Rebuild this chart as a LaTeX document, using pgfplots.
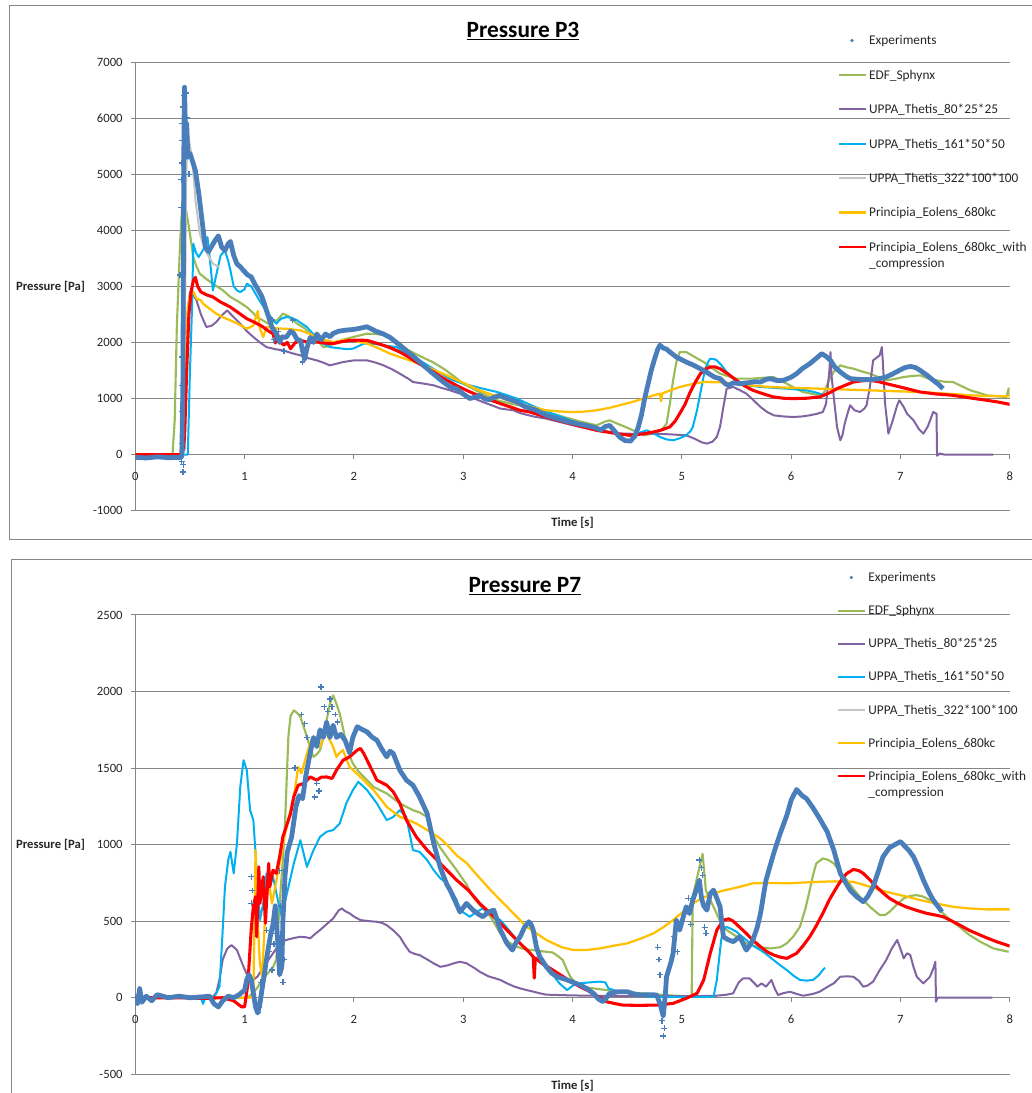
\documentclass[border=0pt]{standalone}
\usepackage{pgfplots}
\pgfplotsset{compat=1.18}
\usepackage{fontspec}
\setmainfont{Carlito}

\definecolor{expblue}{HTML}{4A7EBB}
\definecolor{edfgreen}{HTML}{9BBB59}
\definecolor{uppapurple}{HTML}{8064A2}
\definecolor{uppacyan}{HTML}{00B0F0}
\definecolor{uppagray}{HTML}{C4C4C4}
\definecolor{princorange}{HTML}{FFC000}
\definecolor{princred}{HTML}{FF0000}
\definecolor{axisgray}{HTML}{868686}

\pgfplotsset{
  legend image code/.code={\draw[#1,line width=1.6pt] (0pt,3.2pt) -- (20.25pt,3.2pt);},
  panel/.style={
    scale only axis, width=655.8pt,
    xmin=0, xmax=8, xtick={0,1,...,8},
    axis x line*=middle, axis y line*=left,
    hide obscured x ticks=false, hide obscured y ticks=false,
    axis line style={draw=axisgray, line width=0.75pt},
    ymajorgrids, grid style={draw=axisgray, line width=0.75pt},
    tick style={draw=axisgray, line width=0.75pt},
    major tick length=3.5pt, tick align=outside,
    tick label style={font=\fontsize{9.5}{11}\selectfont, text=black!85},
    /pgf/number format/assume math mode=true,
    /pgf/number format/1000 sep={},
    xticklabel style={yshift=-6pt},
    yticklabel style={xshift=-2.5pt},
    xlabel={Time [s]}, ylabel={Pressure [Pa]},
    every axis x label/.style={at={(rel axis cs:0.5,0)}, anchor=north, yshift=-4.5pt, inner sep=0pt,
      font=\bfseries\fontsize{9.5}{11}\selectfont, text=black!85},
    every axis y label/.style={at={(rel axis cs:0,0.5)}, anchor=east, xshift=-37.5pt, inner sep=0pt,
      font=\bfseries\fontsize{9.5}{11}\selectfont, text=black!85},
    title style={anchor=base, font=\bfseries\fontsize{17.5}{20}\selectfont},
    legend style={draw=none, fill=none, anchor=north west, inner sep=0pt, outer sep=0pt,
      column sep=1.5pt, font=\fontsize{10}{12}\selectfont, text=black!85,
      nodes={inner sep=0pt, text height=7pt, text depth=2.5pt},
      cells={anchor=base west}},
    every axis plot/.append style={line join=round},
  },
}

\begin{document}
\begin{tikzpicture}
\useasboundingbox (0pt,0pt) rectangle (774pt,-819.75pt);
\draw[axisgray, line width=0.75pt] (774pt,-3.75pt) -- (6.75pt,-3.75pt) -- (6.75pt,-404.25pt) -- (774pt,-404.25pt);
\draw[axisgray, line width=0.75pt] (8.25pt,-819.75pt) -- (8.25pt,-419.25pt) -- (774pt,-419.25pt);

% ---------------- Pressure P3 ----------------
\begin{axis}[panel, at={(101.5pt,-383pt)}, anchor=south west, height=336.5pt,
  ymin=-1000, ymax=7000, ytick={-1000,0,...,7000},
  title={\underline{Pressure P3}}, title style={at={(rel axis cs:0.4434,1.0373)}},
  legend style={at={(rel axis cs:0.8036,1.0591)}, row sep=16.3pt}]
\addlegendimage{legend image code/.code={\fill[expblue] (9.75pt,3.2pt) circle (1.1pt);}}
\addlegendentry{Experiments}
\addlegendimage{edfgreen}\addlegendentry{EDF\_Sphynx}
\addlegendimage{uppapurple}\addlegendentry{UPPA\_Thetis\_80*25*25}
\addlegendimage{uppacyan}\addlegendentry{UPPA\_Thetis\_161*50*50}
\addlegendimage{uppagray}\addlegendentry{UPPA\_Thetis\_322*100*100}
\addlegendimage{princorange}\addlegendentry{Principia\_Eolens\_680kc}
\addlegendimage{princred}\addlegendentry{\begin{tabular}[t]{@{}l@{}}Principia\_Eolens\_680kc\_with\\\_compression\end{tabular}}

% EDF_Sphynx
\addplot[forget plot, edfgreen, line width=1.6pt] coordinates {
(0,0) (0.34,0) (0.36,600) (0.38,2300) (0.41,3800) (0.43,4500) (0.44,4620) (0.46,4400) (0.485,4120)
(0.51,3800) (0.53,3520) (0.56,3350) (0.59,3225) (0.65,3130) (0.71,3047) (0.8,2930) (0.87,2810)
(0.95,2720) (1.02,2630) (1.08,2520) (1.11,2452) (1.16,2400) (1.22,2330) (1.3,2400) (1.35,2513)
(1.4,2470) (1.48,2334) (1.55,2250) (1.6,2156) (1.66,2050) (1.72,1917) (1.76,1930) (1.81,1978)
(1.9,2050) (2.0,2100) (2.12,2156) (2.2,2150) (2.3,2126) (2.42,1978) (2.5,1860) (2.6,1760)
(2.72,1650) (2.82,1532) (2.92,1390) (3.0,1265) (3.15,1110) (3.31,968) (3.45,900) (3.61,848)
(3.76,760) (3.92,670) (4.07,590) (4.22,522) (4.3,590) (4.34,611) (4.4,560) (4.52,463) (4.65,344)
(4.74,374) (4.82,450) (4.86,552) (4.89,900) (4.92,1324) (4.95,1650) (4.98,1828) (5.04,1828)
(5.1,1760) (5.2,1650) (5.28,1540) (5.35,1443) (5.42,1400) (5.5,1354) (5.65,1354) (5.75,1370)
(5.84,1383) (5.9,1320) (5.96,1265) (6.04,1180) (6.11,1116) (6.2,1080) (6.26,1057) (6.3,1100)
(6.33,1250) (6.36,1383) (6.4,1500) (6.45,1591) (6.5,1560) (6.57,1532) (6.65,1480) (6.72,1443)
(6.8,1380) (6.87,1324) (6.95,1350) (7.03,1383) (7.1,1400) (7.18,1413) (7.25,1360) (7.33,1324)
(7.4,1300) (7.48,1294) (7.56,1220) (7.64,1146) (7.72,1100) (7.79,1057) (7.88,1040) (7.97,1027)
(7.99,1180) (8.0,1050)
};
% UPPA_Thetis_80*25*25
\addplot[forget plot, uppapurple, line width=1.5pt] coordinates {
(0,0) (0.42,0) (0.45,100) (0.48,2600) (0.5,2900) (0.53,2850) (0.56,2750) (0.6,2500) (0.65,2274)
(0.7,2300) (0.74,2363) (0.79,2480) (0.84,2571) (0.9,2450) (0.96,2334) (1.02,2200) (1.08,2096)
(1.14,2000) (1.2,1917) (1.28,1880) (1.35,1858) (1.43,1810) (1.51,1769) (1.58,1720) (1.66,1680)
(1.72,1640) (1.78,1591) (1.84,1620) (1.9,1650) (2.0,1680) (2.12,1680) (2.2,1640) (2.27,1591)
(2.35,1520) (2.42,1443) (2.5,1350) (2.54,1294) (2.64,1265) (2.73,1235) (2.8,1190) (2.88,1146)
(2.95,1100) (3.03,1057) (3.1,1000) (3.18,937) (3.26,880) (3.34,820) (3.46,790) (3.52,740)
(3.64,680) (3.76,641) (3.82,611) (3.95,550) (4.07,492) (4.13,480) (4.25,420) (4.43,374) (4.6,370)
(4.74,374) (4.9,360) (5.04,344) (5.12,280) (5.18,220) (5.23,196) (5.28,230) (5.32,314) (5.35,500)
(5.38,848) (5.41,1176) (5.47,1205) (5.53,1150) (5.59,1087) (5.65,980) (5.72,848) (5.78,760)
(5.84,700) (5.93,680) (6.02,670) (6.1,680) (6.17,700) (6.24,730) (6.29,759) (6.32,909) (6.35,1500)
(6.36,1828) (6.37,1400) (6.39,1027) (6.42,492) (6.45,255) (6.47,350) (6.49,552) (6.52,760)
(6.54,879) (6.58,790) (6.63,759) (6.67,820) (6.69,879) (6.72,1200) (6.75,1680) (6.79,1740)
(6.81,1769) (6.83,1917) (6.84,1621) (6.86,900) (6.89,374) (6.93,611) (6.97,880) (6.99,968)
(7.03,850) (7.06,730) (7.12,611) (7.17,450) (7.21,374) (7.25,500) (7.3,759) (7.33,730)
(7.335,-20) (7.36,18) (7.4,0) (7.85,0)
};
% UPPA_Thetis_161*50*50
\addplot[forget plot, uppacyan, line width=1.5pt] coordinates {
(0,0) (0.48,0) (0.5,1500) (0.52,2690) (0.53,3760) (0.555,3600) (0.58,3522) (0.62,3650) (0.66,3878)
(0.68,3522) (0.71,2928) (0.74,3200) (0.78,3550) (0.82,3640) (0.85,3450) (0.87,3284) (0.9,3000)
(0.93,2928) (0.96,2898) (1.0,2950) (1.02,3047) (1.06,3000) (1.12,2800) (1.2,2550) (1.29,2334)
(1.33,2420) (1.38,2452) (1.43,2440) (1.48,2393) (1.57,2274) (1.64,2120) (1.72,1978) (1.78,1917)
(1.85,1900) (1.93,1880) (1.99,1888) (2.06,1950) (2.09,1978) (2.2,1970) (2.3,1940) (2.39,1917)
(2.5,1780) (2.6,1680) (2.7,1561) (2.8,1440) (2.9,1330) (3.0,1265) (3.15,1190) (3.31,1116)
(3.4,1060) (3.49,998) (3.6,900) (3.73,790) (3.86,700) (3.98,611) (4.1,540) (4.22,463) (4.3,420)
(4.4,374) (4.52,344) (4.6,380) (4.68,433) (4.74,380) (4.8,314) (4.86,270) (4.92,255) (4.98,290)
(5.04,344) (5.08,420) (5.1,492) (5.14,800) (5.17,1100) (5.21,1502) (5.24,1650) (5.26,1710)
(5.3,1700) (5.32,1680) (5.36,1600) (5.41,1472) (5.47,1370) (5.53,1265) (5.62,1230) (5.72,1205)
(5.84,1190) (5.96,1176) (6.05,1160) (6.14,1146) (6.22,1110) (6.31,1057)
};
% UPPA_Thetis_322*100*100
\addplot[forget plot, uppagray, line width=1.5pt] coordinates {
(0,0) (0.44,0) (0.455,2500) (0.465,4800) (0.475,5600) (0.485,5720) (0.5,5500) (0.52,5300)
(0.55,4532) (0.59,3938) (0.64,3640) (0.71,3403) (0.77,3343)
};
% Principia_Eolens_680kc
\addplot[forget plot, princorange, line width=1.7pt] coordinates {
(0,0) (0.41,0) (0.44,300) (0.46,1500) (0.48,2600) (0.5,2850) (0.53,2900) (0.56,2780) (0.6,2750)
(0.62,2690) (0.68,2600) (0.74,2513) (0.8,2450) (0.87,2393) (0.95,2320) (1.02,2245) (1.08,2300)
(1.12,2560) (1.14,2250) (1.17,2096) (1.2,2274) (1.3,2250) (1.4,2240) (1.51,2215) (1.6,2150)
(1.7,2060) (1.81,2007) (1.93,2050) (2.0,2030) (2.12,1980) (2.22,1900) (2.33,1800) (2.45,1720)
(2.6,1621) (2.72,1520) (2.85,1413) (3.0,1280) (3.15,1146) (3.3,1040) (3.46,937) (3.6,860)
(3.76,790) (3.88,770) (3.98,759) (4.1,765) (4.22,790) (4.33,830) (4.43,879) (4.55,940) (4.65,998)
(4.73,1050) (4.8,1087) (4.81,950) (4.82,1090) (4.9,1150) (4.98,1205) (5.1,1260) (5.2,1294)
(5.35,1290) (5.5,1265) (5.65,1230) (5.81,1205) (6.0,1190) (6.26,1176) (6.5,1160) (6.72,1146)
(6.95,1130) (7.18,1116) (7.4,1090) (7.64,1057) (7.8,1045) (8.0,1039)
};
% Principia_Eolens_680kc_with_compression
\addplot[forget plot, princred, line width=2.3pt] coordinates {
(0,0) (0.43,0) (0.45,300) (0.47,1500) (0.49,2500) (0.51,2900) (0.53,3100) (0.55,3160) (0.57,3000)
(0.6,2900) (0.65,2850) (0.71,2810) (0.78,2720) (0.87,2630) (0.95,2520) (1.02,2423) (1.1,2350)
(1.17,2274) (1.22,2200) (1.26,2156) (1.28,1990) (1.3,2150) (1.33,2000) (1.36,1950) (1.39,2000)
(1.42,1888) (1.46,1990) (1.51,2037) (1.58,2000) (1.66,2007) (1.73,1990) (1.81,1978) (1.88,2010)
(1.96,2037) (2.04,2040) (2.12,2037) (2.2,1990) (2.27,1948) (2.35,1890) (2.42,1828) (2.5,1740)
(2.57,1650) (2.65,1560) (2.73,1472) (2.8,1380) (2.88,1294) (2.95,1220) (3.03,1146) (3.1,1085)
(3.18,1027) (3.26,965) (3.34,909) (3.43,850) (3.52,790) (3.61,760) (3.76,670) (3.92,581)
(4.07,505) (4.22,433) (4.37,385) (4.52,344) (4.65,370) (4.74,403) (4.8,430) (4.89,492) (4.94,600)
(4.98,730) (5.03,900) (5.07,1087) (5.12,1280) (5.17,1443) (5.21,1520) (5.26,1561) (5.3,1565)
(5.35,1532) (5.42,1440) (5.5,1324) (5.57,1230) (5.65,1146) (5.75,1080) (5.84,1027) (5.93,1005)
(6.02,998) (6.14,1005) (6.26,1027) (6.35,1100) (6.42,1176) (6.5,1240) (6.57,1294) (6.65,1315)
(6.72,1324) (6.8,1300) (6.87,1265) (7.03,1190) (7.18,1116) (7.33,1080) (7.48,1057) (7.64,1010)
(7.79,968) (7.9,935) (8.0,896)
};
% Experiments
\addplot[forget plot, expblue, line width=3.6pt] coordinates {
(0,-50) (0.1,-60) (0.2,-40) (0.3,-55) (0.41,-50) (0.425,-40) (0.435,1200) (0.44,3500) (0.445,5800)
(0.45,6550) (0.455,6100) (0.46,5500) (0.47,5900) (0.48,5300) (0.5,5370) (0.52,5250) (0.55,5060)
(0.58,4660) (0.61,4180) (0.64,3700) (0.67,3620) (0.7,3720) (0.73,3820) (0.76,3900) (0.79,3700)
(0.82,3640) (0.85,3760) (0.87,3800) (0.9,3550) (0.93,3400) (0.96,3350) (0.99,3280) (1.03,3200)
(1.06,3170) (1.09,3050) (1.12,2950) (1.16,2810) (1.2,2570) (1.25,2270) (1.29,2150) (1.32,2000)
(1.34,2100) (1.38,2090) (1.42,2200) (1.45,2160) (1.48,2050) (1.51,2040) (1.53,1850) (1.55,1700)
(1.57,1900) (1.6,2090) (1.63,2000) (1.66,2150) (1.7,2050) (1.74,2150) (1.78,2100) (1.81,2160)
(1.86,2200) (1.93,2220) (1.99,2230) (2.05,2250) (2.12,2280) (2.2,2200) (2.27,2150) (2.33,2090)
(2.42,1950) (2.48,1850) (2.55,1740) (2.63,1600) (2.72,1450) (2.8,1320) (2.88,1205) (2.94,1175)
(3.0,1080) (3.06,1000) (3.1,1020) (3.15,1055) (3.2,990) (3.24,980) (3.28,1020) (3.33,1055)
(3.4,1000) (3.49,940) (3.57,850) (3.67,790) (3.76,700) (3.86,640) (3.95,590) (4.04,550) (4.12,520)
(4.19,490) (4.26,440) (4.3,500) (4.34,520) (4.38,430) (4.43,314) (4.48,250) (4.53,240) (4.57,330)
(4.6,480) (4.63,700) (4.66,1000) (4.69,1250) (4.72,1500) (4.75,1700) (4.78,1880) (4.8,1950)
(4.83,1900) (4.86,1880) (4.89,1830) (4.95,1740) (5.0,1690) (5.04,1650) (5.1,1600) (5.15,1550)
(5.2,1500) (5.25,1440) (5.3,1380) (5.35,1354) (5.4,1260) (5.43,1235) (5.47,1280) (5.53,1265)
(5.6,1280) (5.67,1300) (5.72,1294) (5.77,1340) (5.81,1354) (5.87,1320) (5.93,1324) (6.0,1380)
(6.05,1443) (6.1,1530) (6.17,1621) (6.22,1700) (6.28,1800) (6.32,1750) (6.36,1680) (6.4,1560)
(6.45,1472) (6.5,1400) (6.54,1354) (6.63,1340) (6.72,1336) (6.8,1350) (6.87,1383) (6.93,1440)
(6.99,1502) (7.04,1550) (7.09,1573) (7.14,1550) (7.18,1502) (7.24,1420) (7.3,1324) (7.35,1250)
(7.39,1176)
};
\addplot[forget plot, only marks, expblue, mark=+, mark size=2.2pt, mark options={line width=1pt}] coordinates {
(0.41,3200) (0.42,4400) (0.42,4900) (0.425,5200) (0.43,5600) (0.43,5900) (0.44,6200) (0.445,6400)
(0.43,1740) (0.43,1235) (0.43,770) (0.43,200) (0.435,-310) (0.44,-180) (0.425,-120) (0.47,6000)
(0.46,6450) (0.49,5000) (1.53,1650) (1.36,1850) (1.31,2200) (1.44,2400) (1.1,3000) (1.25,2400)
(1.27,2050)
};
\end{axis}

% ---------------- Pressure P7 ----------------
\begin{axis}[panel, at={(101.5pt,-805.7pt)}, anchor=south west, height=344.5pt,
  ymin=-500, ymax=2500, ytick={-500,0,...,2500},
  title={\underline{Pressure P7}}, title style={at={(rel axis cs:0.4455,1.031)}},
  legend style={at={(rel axis cs:0.8028,1.0925)}, row sep=15.3pt}]
\addlegendimage{legend image code/.code={\fill[expblue] (9.75pt,3.2pt) circle (1.1pt);}}
\addlegendentry{Experiments}
\addlegendimage{edfgreen}\addlegendentry{EDF\_Sphynx}
\addlegendimage{uppapurple}\addlegendentry{UPPA\_Thetis\_80*25*25}
\addlegendimage{uppacyan}\addlegendentry{UPPA\_Thetis\_161*50*50}
\addlegendimage{uppagray}\addlegendentry{UPPA\_Thetis\_322*100*100}
\addlegendimage{princorange}\addlegendentry{Principia\_Eolens\_680kc}
\addlegendimage{princred}\addlegendentry{\begin{tabular}[t]{@{}l@{}}Principia\_Eolens\_680kc\_with\\\_compression\end{tabular}}

% EDF_Sphynx
\addplot[forget plot, edfgreen, line width=1.6pt] coordinates {
(0,0) (1.03,0) (1.1,50) (1.2,150) (1.26,200) (1.29,250) (1.32,616) (1.35,900) (1.37,1150)
(1.4,1703) (1.42,1840) (1.45,1877) (1.48,1860) (1.51,1834) (1.54,1770) (1.57,1703) (1.6,1630)
(1.63,1573) (1.66,1590) (1.69,1617) (1.72,1700) (1.75,1812) (1.78,1920) (1.81,1975) (1.84,1920)
(1.87,1856) (1.9,1760) (1.93,1660) (1.96,1580) (1.99,1530) (2.04,1480) (2.09,1442) (2.18,1377)
(2.3,1334) (2.42,1269) (2.54,1225) (2.6,1210) (2.67,1181) (2.73,1051) (2.79,980) (2.85,920)
(2.94,833) (3.03,740) (3.09,659) (3.17,590) (3.25,529) (3.34,420) (3.42,360) (3.49,333) (3.57,315)
(3.64,311) (3.7,305) (3.76,300) (3.82,295) (3.87,270) (3.91,246) (3.95,180) (3.98,137) (4.03,95)
(4.07,72) (4.2,60) (4.31,50) (4.45,40) (4.6,30) (4.8,20) (5.0,10) (5.09,10) (5.1,663) (5.19,940)
(5.22,700) (5.29,594) (5.35,500) (5.41,442) (5.5,400) (5.59,355) (5.7,330) (5.81,322) (5.9,330)
(5.96,355) (6.02,400) (6.08,463) (6.13,580) (6.17,703) (6.2,800) (6.23,877) (6.29,910) (6.34,900)
(6.39,877) (6.45,820) (6.51,768) (6.57,710) (6.63,659) (6.72,594) (6.81,540) (6.86,540) (6.9,561)
(6.97,610) (7.03,649) (7.09,665) (7.15,670) (7.21,660) (7.27,638) (7.33,600) (7.39,551) (7.46,505)
(7.54,463) (7.63,410) (7.73,366) (7.85,322) (7.99,300)
};
% UPPA_Thetis_80*25*25
\addplot[forget plot, uppapurple, line width=1.5pt] coordinates {
(0,0) (0.7,0) (0.74,30) (0.77,120) (0.8,250) (0.84,320) (0.88,344) (0.93,311) (0.99,202) (1.03,137)
(1.07,110) (1.12,140) (1.17,200) (1.22,250) (1.27,300) (1.32,355) (1.38,377) (1.45,390) (1.51,398)
(1.56,395) (1.6,388) (1.65,420) (1.69,442) (1.75,480) (1.81,518) (1.86,570) (1.89,583) (1.92,565)
(1.96,551) (2.0,530) (2.06,507) (2.14,500) (2.21,496) (2.26,488) (2.3,474) (2.36,440) (2.42,398)
(2.47,340) (2.51,300) (2.56,285) (2.6,279) (2.67,250) (2.73,224) (2.79,202) (2.85,210) (2.91,224)
(2.97,235) (3.03,225) (3.1,195) (3.15,170) (3.23,140) (3.3,125) (3.34,116) (3.4,94) (3.46,75)
(3.52,61) (3.58,50) (3.64,40) (3.7,29) (3.76,20) (4.0,15) (4.5,10) (5.0,10) (5.3,12) (5.41,20)
(5.47,29) (5.52,100) (5.56,126) (5.62,126) (5.67,90) (5.69,72) (5.73,94) (5.77,72) (5.82,116)
(5.85,60) (5.88,18) (5.93,30) (5.99,39) (6.05,25) (6.11,13) (6.2,25) (6.26,39) (6.33,70) (6.39,94)
(6.45,137) (6.51,140) (6.57,137) (6.62,110) (6.66,72) (6.7,80) (6.75,105) (6.81,180) (6.87,246)
(6.92,320) (6.97,377) (7.0,320) (7.03,257) (7.06,290) (7.09,279) (7.12,200) (7.15,137) (7.21,94)
(7.27,137) (7.3,190) (7.32,235) (7.325,-26) (7.34,0) (7.84,0)
};
% UPPA_Thetis_161*50*50
\addplot[forget plot, uppacyan, line width=1.5pt] coordinates {
(0,0) (0.6,0) (0.62,-40) (0.64,0) (0.72,0) (0.77,72) (0.8,450) (0.82,725) (0.85,900) (0.87,953)
(0.9,812) (0.93,1008) (0.96,1377) (0.99,1551) (1.02,1486) (1.05,1225) (1.08,1160) (1.11,833)
(1.14,507) (1.17,616) (1.2,812) (1.23,725) (1.26,790) (1.31,616) (1.34,529) (1.38,659) (1.45,877)
(1.51,1029) (1.57,855) (1.63,964) (1.69,1051) (1.75,1084) (1.81,1095) (1.87,1138) (1.93,1269)
(1.99,1356) (2.04,1410) (2.12,1356) (2.21,1269) (2.3,1160) (2.36,1181) (2.42,1225) (2.48,1180)
(2.54,964) (2.6,953) (2.67,899) (2.73,833) (2.79,780) (2.85,747) (2.94,638) (2.97,572) (3.06,529)
(3.12,560) (3.18,583) (3.26,540) (3.34,507) (3.42,440) (3.49,377) (3.57,320) (3.64,268) (3.7,230)
(3.76,202) (3.82,150) (3.88,94) (3.95,50) (4.01,83) (4.07,94) (4.15,100) (4.25,105) (4.3,100)
(4.33,60) (4.4,45) (4.46,39) (4.54,28) (4.62,18) (4.7,5) (5.0,5) (5.29,5) (5.32,116) (5.36,377)
(5.38,440) (5.41,463) (5.45,450) (5.5,431) (5.55,400) (5.59,377) (5.65,340) (5.72,311) (5.78,280)
(5.84,246) (5.9,212) (5.96,181) (6.02,145) (6.08,116) (6.14,112) (6.2,116) (6.25,145) (6.29,181)
(6.31,196)
};
% Principia_Eolens_680kc
\addplot[forget plot, princorange, line width=1.7pt] coordinates {
(0,0) (1.05,0) (1.08,29) (1.1,964) (1.11,616) (1.14,224) (1.16,137) (1.19,572) (1.22,768) (1.25,616)
(1.28,725) (1.32,877) (1.37,1073) (1.42,1225) (1.46,1356) (1.49,1508) (1.52,1465) (1.57,1595)
(1.61,1682) (1.65,1650) (1.69,1638) (1.72,1700) (1.75,1725) (1.78,1680) (1.81,1638) (1.84,1573)
(1.87,1600) (1.9,1617) (1.93,1560) (1.96,1508) (2.06,1442) (2.18,1356) (2.3,1247) (2.42,1181)
(2.5,1160) (2.57,1138) (2.67,1095) (2.79,1040) (2.85,1000) (2.94,930) (3.03,880) (3.14,790)
(3.25,703) (3.4,594) (3.58,463) (3.76,377) (3.9,330) (4.01,311) (4.13,312) (4.25,322) (4.38,340)
(4.5,355) (4.62,385) (4.74,420) (4.83,460) (4.92,507) (5.01,560) (5.1,616) (5.2,655) (5.29,681)
(5.38,700) (5.47,714) (5.56,730) (5.65,747) (5.8,750) (5.96,747) (6.1,752) (6.26,757) (6.4,760)
(6.57,757) (6.72,725) (6.87,692) (7.03,665) (7.18,638) (7.33,615) (7.48,594) (7.63,583) (7.79,577)
(8.0,577)
};
% Principia_Eolens_680kc_with_compression
\addplot[forget plot, princred, line width=2.3pt] coordinates {
(0,0) (0.47,0) (0.6,-5) (0.8,0) (0.9,-20) (0.97,-59) (1.0,-59) (1.03,94) (1.06,442) (1.08,600)
(1.1,659) (1.11,398) (1.13,855) (1.14,616) (1.17,790) (1.19,486) (1.22,877) (1.23,725) (1.26,833)
(1.29,812) (1.32,920) (1.35,1051) (1.38,1116) (1.42,1203) (1.45,1312) (1.49,1388) (1.54,1399)
(1.6,1442) (1.66,1421) (1.7,1440) (1.75,1442) (1.8,1432) (1.84,1486) (1.9,1551) (1.96,1573)
(2.03,1617) (2.06,1628) (2.09,1595) (2.15,1508) (2.21,1421) (2.3,1388) (2.36,1345) (2.42,1269)
(2.48,1160) (2.57,1051) (2.67,964) (2.76,899) (2.85,833) (2.94,768) (3.05,700) (3.15,616)
(3.25,550) (3.34,486) (3.43,420) (3.52,355) (3.6,300) (3.64,268) (3.65,128) (3.66,260) (3.73,220)
(3.82,181) (3.92,135) (4.01,94) (4.1,60) (4.19,29) (4.25,0) (4.31,-26) (4.4,-40) (4.46,-48)
(4.6,-50) (4.77,-48) (4.92,-37) (5.04,-4) (5.14,29) (5.2,116) (5.26,290) (5.32,442) (5.38,507)
(5.43,515) (5.47,500) (5.53,460) (5.59,420) (5.65,375) (5.72,333) (5.78,300) (5.84,279) (5.9,265)
(5.96,257) (6.05,290) (6.11,340) (6.17,398) (6.23,470) (6.29,551) (6.35,640) (6.42,725) (6.47,780)
(6.51,812) (6.57,838) (6.62,830) (6.66,812) (6.72,770) (6.78,725) (6.84,685) (6.9,649) (6.97,620)
(7.05,594) (7.15,570) (7.24,551) (7.32,540) (7.39,529) (7.46,505) (7.54,475) (7.63,440) (7.73,409)
(7.8,388) (7.88,366) (8.0,337)
};
% Experiments
\addplot[forget plot, expblue, line width=3.6pt] coordinates {
(0,20) (0.02,-40) (0.04,60) (0.06,-30) (0.1,10) (0.15,-20) (0.2,20) (0.3,0) (0.4,10) (0.5,0)
(0.6,5) (0.68,10) (0.72,-40) (0.76,-60) (0.8,-20) (0.85,10) (0.9,0) (0.95,20) (1.0,50) (1.02,120)
(1.04,150) (1.06,120) (1.08,30) (1.1,-60) (1.12,-100) (1.14,-40) (1.16,60) (1.18,150) (1.2,250)
(1.22,340) (1.24,420) (1.26,480) (1.28,600) (1.3,400) (1.32,150) (1.34,200) (1.35,500) (1.37,800)
(1.39,950) (1.41,1000) (1.43,1050) (1.45,1150) (1.47,1250) (1.5,1320) (1.53,1300) (1.56,1450)
(1.6,1600) (1.63,1700) (1.66,1640) (1.69,1750) (1.72,1700) (1.75,1800) (1.78,1700) (1.81,1780)
(1.84,1700) (1.88,1720) (1.92,1680) (1.96,1600) (1.99,1700) (2.03,1770) (2.08,1750) (2.12,1736)
(2.17,1700) (2.21,1682) (2.25,1630) (2.3,1573) (2.33,1610) (2.36,1595) (2.42,1486) (2.48,1421)
(2.54,1388) (2.6,1312) (2.67,1203) (2.73,1008) (2.79,850) (2.85,740) (2.88,703) (2.94,610)
(2.97,560) (3.03,616) (3.09,572) (3.14,545) (3.18,529) (3.23,560) (3.28,572) (3.34,442) (3.4,355)
(3.45,311) (3.49,370) (3.52,398) (3.56,460) (3.6,496) (3.62,480) (3.64,442) (3.67,330) (3.7,268)
(3.76,202) (3.81,160) (3.86,137) (3.95,116) (4.07,83) (4.13,60) (4.19,29) (4.24,-10) (4.28,-26)
(4.31,0) (4.34,29) (4.42,39) (4.5,39) (4.56,25) (4.62,18) (4.7,20) (4.77,18) (4.8,-40) (4.83,-120)
(4.85,30) (4.86,137) (4.9,230) (4.92,290) (4.95,507) (4.98,442) (5.01,520) (5.04,594) (5.07,550)
(5.1,638) (5.13,700) (5.16,768) (5.18,650) (5.2,600) (5.23,572) (5.26,680) (5.29,703) (5.32,650)
(5.35,594) (5.38,398) (5.42,380) (5.47,366) (5.53,398) (5.57,340) (5.59,311) (5.62,340) (5.65,377)
(5.69,460) (5.72,551) (5.77,768) (5.84,942) (5.9,1073) (5.96,1190) (6.0,1290) (6.05,1360)
(6.1,1320) (6.14,1301) (6.2,1240) (6.26,1171) (6.33,1084) (6.39,964) (6.45,812) (6.5,750)
(6.54,703) (6.6,660) (6.66,627) (6.7,660) (6.75,725) (6.8,830) (6.84,920) (6.9,980) (6.97,1008)
(7.0,1020) (7.03,997) (7.08,960) (7.12,920) (7.17,840) (7.21,768) (7.26,690) (7.3,638) (7.34,600)
(7.38,561)
};
\addplot[forget plot, only marks, expblue, mark=+, mark size=2.2pt, mark options={line width=1pt}] coordinates {
(1.06,790) (1.06,616) (1.07,700) (1.12,-95) (1.13,-60) (1.15,100) (1.2,440) (1.22,300) (1.25,180)
(1.27,350) (1.28,420) (1.32,830) (1.33,600) (1.34,350) (1.35,100) (1.36,250) (1.37,700)
(1.46,1500) (1.48,1300) (1.52,1850) (1.55,1790) (1.57,1700) (1.64,1310) (1.66,1400) (1.68,1350)
(1.7,2030) (1.73,1900) (1.76,1870) (1.78,1950) (1.8,1900) (1.83,1850) (1.85,1800)
(4.78,330) (4.79,250) (4.8,150) (4.82,-150) (4.83,-250) (4.84,-200) (4.93,400) (4.96,300)
(5.16,900) (5.18,850) (5.19,800) (5.21,460) (5.22,420) (5.06,650) (5.08,480)
};
\end{axis}
\end{tikzpicture}
\end{document}
